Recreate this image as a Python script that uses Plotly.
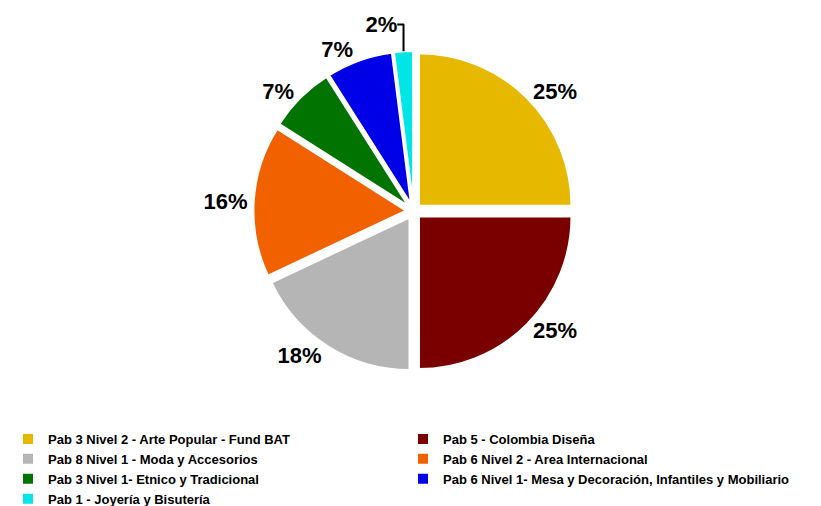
import plotly.graph_objects as go

labels = [
    "Pab 3 Nivel 2 - Arte Popular - Fund BAT",
    "Pab 5 - Colombia Diseña",
    "Pab 8 Nivel 1 - Moda y Accesorios",
    "Pab 6 Nivel 2 - Area Internacional",
    "Pab 3 Nivel 1- Etnico y Tradicional",
    "Pab 6 Nivel 1- Mesa y Decoración, Infantiles y Mobiliario",
    "Pab 1 - Joyería y Bisutería",
]
values = [25, 25, 18, 16, 7, 7, 2]
colors = ["#E6B800", "#7A0000", "#B5B5B5", "#F26100", "#007300", "#0000E6", "#00E6E6"]

fig = go.Figure()

fig.add_trace(go.Pie(
    labels=labels,
    values=values,
    sort=False,
    direction="clockwise",
    rotation=0,
    pull=[0.05] * len(values),
    marker=dict(colors=colors, line=dict(color="white", width=2)),
    texttemplate="%{percent:.0%}",
    textposition="outside",
    textfont=dict(family="Liberation Sans, Arial", size=22, color="black", weight="bold"),
    domain=dict(x=[0.194, 0.794], y=[0.282, 0.915]),
    showlegend=True,
))

fig.update_layout(
    width=821,
    height=506,
    margin=dict(l=0, r=0, t=0, b=0, autoexpand=False),
    paper_bgcolor="white",
    plot_bgcolor="white",
    font=dict(family="Liberation Sans, Arial", size=13, color="black", weight="bold"),
    legend=dict(
        orientation="h",
        x=0.0, y=0.0,
        xanchor="left", yanchor="bottom",
        entrywidth=350, entrywidthmode="pixels",
        itemwidth=30,
        tracegroupgap=0,
        font=dict(size=13, weight="bold"),
    ),
)

fig.write_html("out.html")
